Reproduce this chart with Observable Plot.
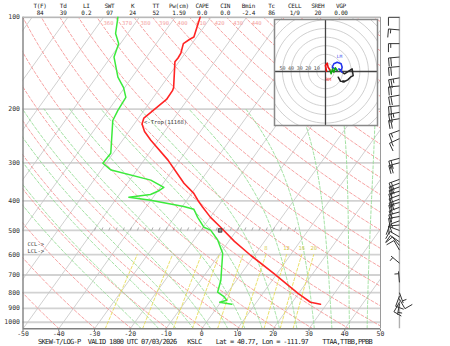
<!DOCTYPE html>
<html><head><meta charset="utf-8">
<script src="https://cdn.jsdelivr.net/npm/d3@7"></script>
<script src="https://cdn.jsdelivr.net/npm/@observablehq/plot@0.6"></script>
<style>
body{margin:0;background:#fff;}
#wrap{position:relative;width:450px;height:346px;overflow:hidden;background:#fff;}
</style></head>
<body><div id="wrap"></div>
<script>
// ---------------- DATA ----------------
const paramNames  = ["T(F)","Td","LI","SWT","K","TT","Pw(cm)","CAPE","CIN","Bmin","Tc","CELL","SREH","VGP"];
const paramValues = ["84","39","0.2","97","24","52","1.59","0.0","0.0","-2.4","86","1/9","20","0.00"];
const captionText = "SKEW-T/LOG-P  VALID 1800 UTC 07/03/2026   KSLC    Lat = 40.77, Lon = -111.97    TTAA,TTBB,PPBB";

const pressureTicks = [100,200,300,400,500,600,700,800,900,1000];
const tempTicks = [-50,-40,-30,-20,-10,0,10,20,30,40,50];

// temperature profile (hPa, degC)
const tempP = [100,116,118,122,131,136,140,170,174,186,205,214,224,237,253,294,350,378,398,420,453,488,543,603,691,803,860,873];
const tempT = [-63.0,-60.8,-61.5,-62.4,-61.2,-61.0,-61.1,-56.3,-56.0,-55.9,-57.7,-58.5,-57.8,-55.6,-52.1,-43.3,-34.2,-29.4,-26.9,-24.1,-19.9,-15.1,-8.4,-1.1,9.0,19.7,25.1,28.3];
// dewpoint profile
const dewP = [100,113,122,135,157,170,183,202,218,279,301,317,342,361,372,381,389,398,417,426,453,488,499,538,594,728,797,822,847,860,873];
const dewT = [-86.0,-83.4,-80.5,-79.1,-74.0,-70.3,-67.7,-67.3,-66.7,-60.7,-60.9,-57.2,-44.1,-39.0,-39.9,-41.3,-46.8,-40.1,-29.6,-26.2,-23.5,-19.8,-17.3,-13.3,-9.3,-4.4,-2.9,-0.4,1.3,-0.3,3.5];

// winds (hPa, direction deg, speed kt)
const windP   = [100,110,122,135,145,158,168,180,195,205,215,235,250,290,300,340,350,360,372,383,395,405,420,435,450,465,480,500,525,545,560,580,640,740,800,820,840,860,870];
const windDir = [270,275,270,265,265,260,265,260,265,260,260,250,245,255,255,250,250,250,255,250,250,255,250,255,260,250,265,290,300,305,320,330,310,355,160,200,150,210,190];
const windSpd = [10,15,15,20,20,25,20,20,20,25,20,15,15,20,20,20,20,15,15,20,20,15,15,15,15,15,10,10,10,10,10,10,5,5,5,10,10,10,5];

// hodograph traces (u, v in kt)
const hodoRedU = [1.2,0,2,3.1,5];            const hodoRedV = [0.3,7,9.7,5,2];
const hodoGreenU = [5,6.6,8.1,9.7,11.6,13.6]; const hodoGreenV = [2,-2.7,3.1,-0.8,4.3,1.2];
const hodoBlueU = [13.6,7.8,9.7,13.6,18.2,19.4,18.2,15.5,19.4];
const hodoBlueV = [1.2,5,9,10.8,9,5,1.2,3.1,-0.8];
const hodoBlackU = [19.4,22.1,28.3,31,32.2,29,25.9,22.1,17.4,14.8];
const hodoBlackV = [-0.8,-2.7,1.2,3.1,-4.7,-6.6,-9.7,-11.6,-11.3,-6.6];
const hodoRingSpeeds = [10,20,30,40,50,60,70,80];
const hodoRingLabels = [10,20,30,40,50];

// reference lines
const isotherms = [-120,-110,-100,-90,-80,-70,-60,-50,-40,-30,-20,-10,0,10,20,30,40,50];
const dryThetas = [220,230,240,250,260,270,280,290,300,310,320,330,340,350,360,370,380,390,400,410,420,430,440,450,460,470,480,490,500,510];
const dryLabelThetas = [360,370,380,390,400,410,420,430,440];
const moistThetaW = [-20,-15,-10,-5,0,5,10,15,20,25,30,35,40,45];
const mixingRatios = [0.4,1,2,3,5,8,12,16,20];
const mixingLabels = [8,12,16,20];

// annotations
const tropo = {p:224, T:-57.8, text:"<-Trop(11168)"};
const levelLabels = [{p:555,text:"CCL->"},{p:585,text:"LCL->"}];
const parcel500 = {p:500, T:-14.6};
const tick500 = [-30,-28,-26,-24,-22,-20,-18,-16,-14,-12,-10,-8,-6,-4,-2,0,2,4,6,8,10,12,14,16,18,20,22,24,26];

// ---------------- LAYOUT ----------------
const W=450,H=346,ML=22.5,MR=70,MT=16.8,MB=17.8;
const P_BOT=1050,P_TOP=100,X_MIN=-50,X_MAX=50;
const SKEW=26.6;
const pxPerDeg=(W-ML-MR)/(X_MAX-X_MIN);
const pxPerLn=(H-MT-MB)/Math.log(P_BOT/P_TOP);
const windColumnX=55.3;
const skewX=(T,p)=>T+SKEW*Math.log(P_BOT/p);
const logSpace=(a,b,n)=>d3.range(n+1).map(i=>a*Math.pow(b/a,i/n));

// thermodynamics
const esat=T=>6.112*Math.exp(17.67*T/(T+243.5));
function moistGrad(T,p){
  const Tk=T+273.15,e=esat(T),r=0.622*e/(p-e),Rd=287.04,cp=1005.7,L=2.501e6,eps=0.622;
  return (Rd*Tk+L*r)/(p*(cp+L*L*r*eps/(Rd*Tk*Tk)));
}
function moistLine(tw){
  const pts=[];
  let T=tw,p=1000;
  // downwards to 1050
  const down=[];let Td=tw,pd=1000;
  while(pd<P_BOT){const h=Math.min(5,P_BOT-pd);const k1=moistGrad(Td,pd);const k2=moistGrad(Td+k1*h,pd+h);Td+=h*(k1+k2)/2;pd+=h;down.push({p:pd,T:Td});}
  down.reverse().forEach(d=>pts.push(d));
  pts.push({p,T});
  while(p>200){const h=-Math.min(5,p-200);const k1=moistGrad(T,p);const k2=moistGrad(T+k1*h,p+h);T+=h*(k1+k2)/2;p+=h;pts.push({p,T});}
  return pts.map(d=>({...d,id:tw}));
}

const isoData=isotherms.flatMap(T=>[{id:T,X:T,p:P_BOT},{id:T,X:T+SKEW*Math.log(P_BOT/P_TOP),p:P_TOP}]);
const dryData=dryThetas.flatMap(th=>logSpace(P_BOT,P_TOP,40).map(p=>({id:th,p,X:skewX(th*Math.pow(p/1000,0.2857)-273.15,p)})));
const moistData=moistThetaW.flatMap(tw=>moistLine(tw).map(d=>({id:d.id,p:d.p,X:skewX(d.T,d.p)})));
const tdFromW=(w,p)=>{const e=w*p/(622+w);const l=Math.log(e/6.112);return 243.5*l/(17.67-l);};
const mixData=mixingRatios.flatMap(w=>logSpace(P_BOT,600,12).map(p=>({id:w,p,X:skewX(tdFromW(w,p),p)})));
const tempData=tempP.map((p,i)=>({p,X:skewX(tempT[i],p)}));
const dewData=dewP.map((p,i)=>({p,X:skewX(dewT[i],p)}));

// wind barbs -> segments
const toData=(p,dx,dy)=>({X:windColumnX+dx/pxPerDeg,p:p*Math.exp(dy/pxPerLn)});
const barbSegs=[];
windP.forEach((p,i)=>{
  const d=windDir[i]*Math.PI/180,spd=Math.round(windSpd[i]/5)*5;
  const sx=Math.sin(d),sy=-Math.cos(d),fx=sy,fy=-sx;
  const L=11,F=8.5,gap=2.3;
  barbSegs.push([toData(p,0,0),toData(p,L*sx,L*sy)]);
  let pos=L;const full=Math.floor(spd/10),half=spd%10>=5;
  for(let k=0;k<full;k++){barbSegs.push([toData(p,pos*sx,pos*sy),toData(p,pos*sx+F*fx,pos*sy+F*fy)]);pos-=gap;}
  if(half){if(full===0)pos=L-gap;barbSegs.push([toData(p,pos*sx,pos*sy),toData(p,pos*sx+F/2*fx,pos*sy+F/2*fy)]);}
});

const FONT="DejaVu Sans Mono, monospace";
const main=Plot.plot({
  width:W,height:H,marginLeft:ML,marginRight:MR,marginTop:MT,marginBottom:MB,
  style:{background:"white",fontFamily:FONT,fontSize:"6.5px",color:"#222",overflow:"visible"},
  x:{domain:[X_MIN,X_MAX],axis:null},
  y:{type:"log",domain:[P_BOT,P_TOP],axis:null},
  marks:[
    Plot.ruleY(pressureTicks,{stroke:"#d2d2d2",strokeWidth:1.8}),
    Plot.line(isoData,{x:"X",y:"p",z:"id",stroke:"#c4c4c4",strokeWidth:0.8,clip:true}),
    Plot.line(dryData,{x:"X",y:"p",z:"id",stroke:"#f59898",strokeWidth:0.9,strokeDasharray:"3,2",clip:true}),
    Plot.line(moistData,{x:"X",y:"p",z:"id",stroke:"#95dc95",strokeWidth:0.9,strokeDasharray:"3,2",clip:true}),
    Plot.line(mixData,{x:"X",y:"p",z:"id",stroke:"#e6dc5a",strokeWidth:0.9,strokeDasharray:"3,2",clip:true}),
    Plot.text(mixingLabels,{x:w=>skewX(tdFromW(w,600),600),y:()=>600,text:d=>String(d),dy:-6,fill:"#d8cc50",fontSize:5.5}),
    Plot.text(dryLabelThetas,{x:th=>skewX(th*Math.pow(0.1,0.2857)-273.15,P_TOP),y:()=>P_TOP,text:d=>String(d),textAnchor:"end",dx:-2,dy:5.5,fill:"#f3a0a0",fontSize:5.5}),
    Plot.link(tick500,{x1:d=>d,x2:d=>d+0.35,y1:()=>500,y2:()=>500*Math.exp(-3/pxPerLn),stroke:"#9a9a9a",strokeWidth:0.8}),
    // frame
    Plot.ruleX([X_MIN],{stroke:"#808080",strokeWidth:1.4}),
    Plot.ruleX([X_MAX],{stroke:"#9a9a9a",strokeWidth:1}),
    Plot.ruleY([P_BOT],{stroke:"#808080",strokeWidth:1.4}),
    Plot.ruleY([P_TOP],{stroke:"#b8b8b8",strokeWidth:1.2}),
    // axis labels
    Plot.text(pressureTicks,{y:d=>d,frameAnchor:"left",textAnchor:"end",dx:-3,text:d=>String(d),fill:"#333",fontSize:6.5}),
    Plot.text(tempTicks,{x:d=>d,frameAnchor:"bottom",dy:7,text:d=>String(d),fill:"#333",fontSize:6.5}),
    Plot.link(tempTicks,{x1:d=>d,x2:d=>d,y1:()=>P_BOT,y2:()=>P_BOT*Math.exp(2.5/pxPerLn),stroke:"#808080"}),
    // annotations
    Plot.text(levelLabels,{y:"p",frameAnchor:"left",text:"text",textAnchor:"start",dx:4.5,fill:"#444",fontSize:5.5}),
    Plot.text([tropo],{x:d=>skewX(d.T,d.p),y:"p",text:"text",textAnchor:"start",dx:2,dy:-2,fill:"#444",fontSize:5.5}),
    // profiles
    Plot.line(dewData,{x:"X",y:"p",stroke:"#3cea3c",strokeWidth:1.5}),
    Plot.line(tempData,{x:"X",y:"p",stroke:"#ff2424",strokeWidth:1.6}),
    Plot.dot([parcel500],{x:d=>skewX(d.T,d.p),y:"p",symbol:"square",r:2,stroke:"#333",fill:"#888",strokeWidth:0.8}),
    // wind column
    Plot.ruleX([windColumnX],{stroke:"#b0b0b0",strokeWidth:1.4}),
    Plot.link(barbSegs,{x1:d=>d[0].X,y1:d=>d[0].p,x2:d=>d[1].X,y2:d=>d[1].p,stroke:"#333",strokeWidth:1})
  ]
});

// hodograph
const ring=(s)=>d3.range(0,73).map(i=>({id:s,u:s*Math.cos(i*5*Math.PI/180),v:s*Math.sin(i*5*Math.PI/180)}));
const trace=(U,V)=>U.map((u,i)=>({u,v:V[i]}));
const hodo=Plot.plot({
  width:103,height:106,margin:0,
  style:{background:"white",fontFamily:FONT,fontSize:"5px",overflow:"visible"},
  x:{domain:[-59.3,60.5],axis:null},
  y:{domain:[-62.8,60.5],axis:null},
  marks:[
    Plot.line(hodoRingSpeeds.flatMap(ring),{x:"u",y:"v",z:"id",stroke:"#c4c4c4",strokeWidth:0.8,clip:true}),
    Plot.ruleX([0],{stroke:"#444",strokeWidth:1.3}),
    Plot.ruleY([0],{stroke:"#444",strokeWidth:1.3}),
    Plot.text(hodoRingLabels,{x:d=>-d,y:()=>0,text:d=>String(d),dy:-3.5,fill:"#555",fontSize:5}),
    Plot.line(trace(hodoBlackU,hodoBlackV),{x:"u",y:"v",stroke:"#222",strokeWidth:1.5}),
    Plot.line(trace(hodoBlueU,hodoBlueV),{x:"u",y:"v",stroke:"#2233ee",strokeWidth:1.5}),
    Plot.line(trace(hodoGreenU,hodoGreenV),{x:"u",y:"v",stroke:"#11aa11",strokeWidth:1.5}),
    Plot.line(trace(hodoRedU,hodoRedV),{x:"u",y:"v",stroke:"#ee1111",strokeWidth:1.6}),
    Plot.text([{u:16.3,v:17.4,t:"LM"}],{x:"u",y:"v",text:"t",fill:"#3344ee",fontSize:4.5}),
    Plot.text([{u:3.5,v:-9.3,t:"RM"}],{x:"u",y:"v",text:"t",fill:"#ee2222",fontSize:4.5}),
    Plot.dot([{u:20.9,v:-11.6}],{x:"u",y:"v",symbol:"square",r:1.3,fill:"#222"}),
    Plot.frame({stroke:"#888",strokeWidth:1.5})
  ]
});

const wrap=document.getElementById("wrap");
main.style.position="absolute";main.style.left="0";main.style.top="0";
wrap.appendChild(main);
hodo.style.position="absolute";hodo.style.left="274px";hodo.style.top="19px";
wrap.appendChild(hodo);

const hdr=document.createElement("div");
hdr.style.cssText="position:absolute;left:0;top:3.4px;width:450px;height:14px;font-family:'DejaVu Sans Mono',monospace;font-size:6px;letter-spacing:-0.3px;line-height:6.6px;color:#222;";
paramNames.forEach((n,i)=>{const c=document.createElement("div");c.style.cssText=`position:absolute;top:0;left:${40+i*23.15-16}px;width:32px;text-align:center;white-space:pre;`;c.textContent=n+"\n"+paramValues[i];hdr.appendChild(c);});
wrap.appendChild(hdr);

const cap=document.createElement("div");
cap.style.cssText="position:absolute;left:38px;top:337.6px;font-family:'DejaVu Sans Mono',monospace;font-size:7px;letter-spacing:-0.66px;line-height:8px;color:#222;white-space:pre;";
cap.textContent=captionText;
wrap.appendChild(cap);
</script></body></html>
